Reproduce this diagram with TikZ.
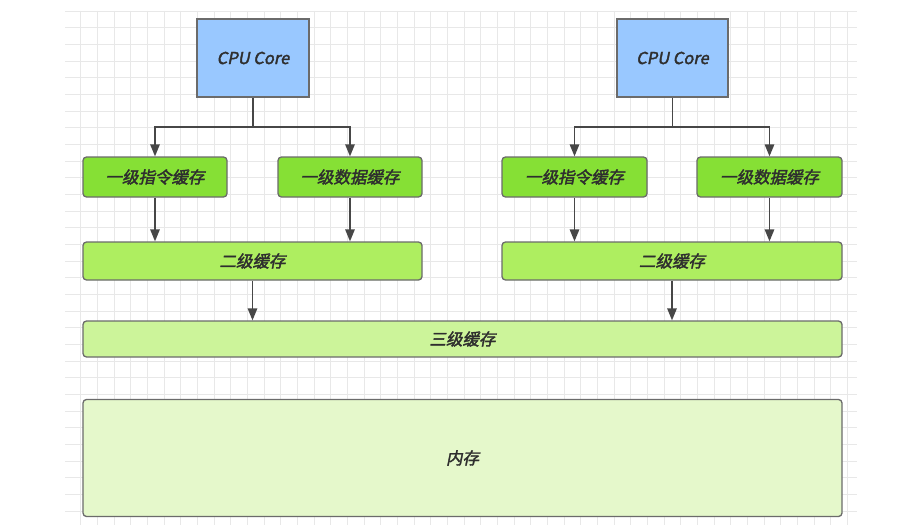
\documentclass[tikz,border=0pt]{standalone}
\usepackage{fontspec}
\newfontfamily\cjk{Noto Sans CJK SC}[FakeSlant=0.2,FakeBold=2.2]
\usetikzlibrary{arrows.meta}
\definecolor{gridc}{HTML}{E8E8E8}
\definecolor{strokec}{HTML}{6B6B6B}
\definecolor{linec}{HTML}{474747}
\definecolor{txtc}{HTML}{2E2E2E}
\definecolor{cpuc}{HTML}{99C8FF}
\definecolor{lonec}{HTML}{86E035}
\definecolor{ltwoc}{HTML}{AEEE60}
\definecolor{lthreec}{HTML}{CCF49A}
\definecolor{memc}{HTML}{E5F8CB}
\tikzset{
  box/.style={draw=strokec, line width=1.3pt, rounded corners=3.5pt, inner sep=0pt,
    font=\cjk\fontsize{16.5}{16.5}\selectfont, text=txtc},
  cpubox/.style={box, fill=cpuc, rounded corners=0pt},
  arr/.style={draw=linec, line width=1.4pt, -{Triangle[length=12pt,width=9.5pt]}},
}
\begin{document}
\begin{tikzpicture}[x=1pt,y=-1pt]
\useasboundingbox (0,0) rectangle (916,527);
\fill[white] (0,0) rectangle (916,527);
% grid
\foreach \i in {0,...,46} {
  \draw[gridc, line width=0.9pt] ({80.7+16.67*\i},11) -- ({80.7+16.67*\i},525);
}
\foreach \j in {0,...,30} {
  \draw[gridc, line width=0.9pt] (65,{11+16.67*\j}) -- (857,{11+16.67*\j});
}
% nodes
\node[cpubox, minimum width=112pt, minimum height=78pt] (cpu1) at (253,58) {CPU Core};
\node[cpubox, minimum width=111pt, minimum height=78pt] (cpu2) at (672.5,58) {CPU Core};
\node[box, fill=lonec, minimum width=144pt, minimum height=40pt] (l1a) at (155,177) {一级指令缓存};
\node[box, fill=lonec, minimum width=144pt, minimum height=40pt] (l1b) at (350,177) {一级数据缓存};
\node[box, fill=lonec, minimum width=145pt, minimum height=40pt] (l1c) at (574.5,177) {一级指令缓存};
\node[box, fill=lonec, minimum width=145pt, minimum height=40pt] (l1d) at (769.5,177) {一级数据缓存};
\node[box, fill=ltwoc, minimum width=339pt, minimum height=38pt] (l2a) at (252.5,261) {二级缓存};
\node[box, fill=ltwoc, minimum width=340pt, minimum height=38pt] (l2b) at (672,261) {二级缓存};
\node[box, fill=lthreec, minimum width=759pt, minimum height=36pt] (l3) at (462.5,339) {三级缓存};
\node[box, fill=memc, minimum width=759pt, minimum height=117pt] (mem) at (462.5,458) {内存};
% connectors
\coordinate (j1) at (253,127);
\coordinate (j2) at (672.5,127);
\draw[linec, line width=1.4pt] (cpu1.south) -- (j1);
\draw[linec, line width=1.4pt] (cpu2.south) -- (j2);
\draw[arr] (j1) -| (l1a.north);
\draw[arr] (j1) -| (l1b.north);
\draw[arr] (j2) -| (l1c.north);
\draw[arr] (j2) -| (l1d.north);
\draw[arr] (l1a.south) -- (l1a.south |- l2a.north);
\draw[arr] (l1b.south) -- (l1b.south |- l2a.north);
\draw[arr] (l1c.south) -- (l1c.south |- l2b.north);
\draw[arr] (l1d.south) -- (l1d.south |- l2b.north);
\draw[arr] (l2a.south) -- (l2a.south |- l3.north);
\draw[arr] (l2b.south) -- (l2b.south |- l3.north);
\end{tikzpicture}
\end{document}
